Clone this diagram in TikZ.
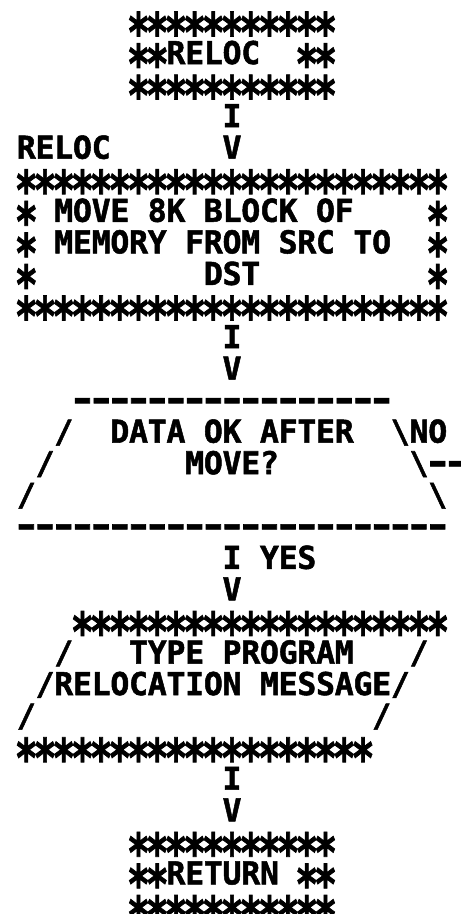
\documentclass[tikz,border=0pt]{standalone}
\usepackage{fontspec}
\usepackage{graphicx}
\newfontfamily\mfont{DejaVu Sans Mono}[BoldFeatures={FakeBold=1.6}]
\newcommand\rsstar{{\fontsize{30.5pt}{30.5pt}\selectfont\raisebox{-0.615em}{\scalebox{1.25}[1.75]{*}}}}
\newcommand\rsdash{\scalebox{1.5}[1.15]{-}}
\ExplSyntaxOn
\dim_new:N \l_rs_cw_dim
\dim_set:Nn \l_rs_cw_dim {18.7pt}
\NewDocumentCommand \mono { m }
 {
  \str_map_inline:nn {#1}
   {
    \makebox[\l_rs_cw_dim][c]
     {
      \str_case:nnF {##1}
       {
        {*}{\rsstar}
        {.}{}
        {!}{\textbackslash}
        {-}{\rsdash}
       }
       {##1}
     }
   }
 }
\ExplSyntaxOff
\tikzset{ln/.style={anchor=base west, inner sep=0pt, outer sep=0pt,
  font=\mfont\bfseries\fontsize{31.5pt}{31.5pt}\selectfont}}
\newcommand\rowat[4]{\node[ln] (#1) at ({17+#2*18.7},{32.5+(#3-1)*31.55}) {\mono{#4}};}
\begin{document}
\begin{tikzpicture}[x=1pt,y=-1pt]
\fill[white] (0,0) rectangle (461,914);
\useasboundingbox (0,0) rectangle (461,914);
\rowat{L1}{6}{1}{***********}
\rowat{L2}{6}{2}{**RELOC..**}
\rowat{L3}{6}{3}{***********}
\rowat{L4}{11}{4}{I}
\rowat{L5}{0}{5}{RELOC......V}
\rowat{L6}{0}{6}{***********************}
\rowat{L7}{0}{7}{*.MOVE.8K.BLOCK.OF....*}
\rowat{L8}{0}{8}{*.MEMORY.FROM.SRC.TO..*}
\rowat{L9}{0}{9}{*.........DST.........*}
\rowat{L10}{0}{10}{***********************}
\rowat{L11}{11}{11}{I}
\rowat{L12}{11}{12}{V}
\rowat{L13}{3}{13}{-----------------}
\rowat{L14}{2}{14}{/..DATA.OK.AFTER..!NO}
\rowat{L15}{1}{15}{/.......MOVE?.......!--}
\rowat{L16}{0}{16}{/.....................!}
\rowat{L17}{0}{17}{-----------------------}
\rowat{L18}{11}{18}{I.YES}
\rowat{L19}{11}{19}{V}
\rowat{L20}{3}{20}{********************}
\rowat{L21}{2}{21}{/...TYPE.PROGRAM.../}
\rowat{L22}{1}{22}{/RELOCATION.MESSAGE/}
\rowat{L23}{0}{23}{/................../}
\rowat{L24}{0}{24}{*******************}
\rowat{L25}{11}{25}{I}
\rowat{L26}{11}{26}{V}
\rowat{L27}{6}{27}{***********}
\rowat{L28}{6}{28}{**RETURN.**}
\rowat{L29}{6}{29}{***********}
\end{tikzpicture}
\end{document}
